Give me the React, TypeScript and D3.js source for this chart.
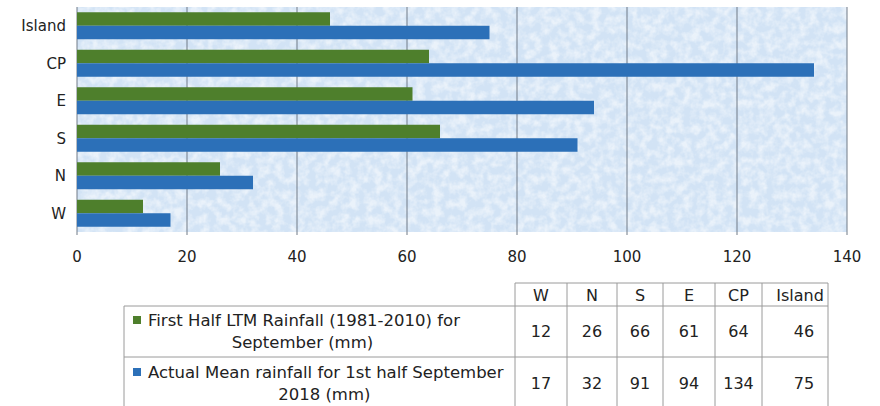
import React, { useEffect, useRef } from 'react';
import * as d3 from 'd3';

// regions, bottom to top in the chart, left to right in the table
const regions = ['W', 'N', 'S', 'E', 'CP', 'Island'];
const ltmRainfall = [12, 26, 66, 61, 64, 46];
const actualRainfall = [17, 32, 91, 94, 134, 75];
const xTicks = [0, 20, 40, 60, 80, 100, 120, 140];
const seriesNames = [
  ['First Half LTM Rainfall (1981-2010) for', 'September (mm)'],
  ['Actual Mean rainfall for 1st half September', '2018 (mm)'],
];
const seriesColors = ['#4e7f2c', '#2c70b8'];

const FONT = 'DejaVu Sans, Verdana, sans-serif';

export default function App() {
  const ref = useRef<SVGSVGElement>(null);

  useEffect(() => {
    const svg = d3.select(ref.current);
    svg.selectAll('*').remove();

    const left = 77, right = 847, top = 7, bottom = 232;

    const x = d3.scaleLinear().domain([0, 140]).range([left, right]);
    const y = d3.scaleBand().domain(regions.slice().reverse()).range([top, bottom])
      .paddingInner(0.28).paddingOuter(0.14);
    const ySub = d3.scaleBand().domain(['ltm', 'actual']).range([0, y.bandwidth()]);

    // mottled pale blue background
    const defs = svg.append('defs');
    const f = defs.append('filter').attr('id', 'mottle')
      .attr('x', 0).attr('y', 0).attr('width', '100%').attr('height', '100%');
    f.append('feTurbulence').attr('type', 'fractalNoise')
      .attr('baseFrequency', 0.12).attr('numOctaves', 3).attr('seed', 7);
    f.append('feColorMatrix').attr('type', 'matrix')
      .attr('values', '0 0 0 0 1  0 0 0 0 1  0 0 0 0 1  0 0 0 -2.4 1.55');
    f.append('feComposite').attr('in2', 'SourceGraphic').attr('operator', 'in');

    svg.append('rect').attr('x', left).attr('y', top)
      .attr('width', right - left).attr('height', bottom - top).attr('fill', '#d2e3f5');
    svg.append('rect').attr('x', left).attr('y', top)
      .attr('width', right - left).attr('height', bottom - top)
      .attr('fill', '#fff').attr('opacity', 0.55).attr('filter', 'url(#mottle)');

    // gridlines + ticks
    svg.append('g').selectAll('line').data(xTicks).join('line')
      .attr('x1', d => x(d)).attr('x2', d => x(d))
      .attr('y1', top).attr('y2', bottom + 3)
      .attr('stroke', '#707b87').attr('stroke-width', 1);

    svg.append('g').selectAll('text').data(xTicks).join('text')
      .attr('x', d => x(d)).attr('y', 262)
      .attr('text-anchor', 'middle')
      .attr('font-family', FONT).attr('font-size', 15).attr('fill', '#222')
      .text(d => d);

    // category labels
    svg.append('g').selectAll('text').data(regions).join('text')
      .attr('x', 66).attr('y', d => (y(d) as number) + y.bandwidth() / 2 + 5.5)
      .attr('text-anchor', 'end')
      .attr('font-family', FONT).attr('font-size', 15).attr('fill', '#222')
      .text(d => d);

    // bars
    const series = [
      { key: 'ltm', values: ltmRainfall, color: seriesColors[0] },
      { key: 'actual', values: actualRainfall, color: seriesColors[1] },
    ];
    series.forEach(s => {
      svg.append('g').selectAll('rect').data(regions).join('rect')
        .attr('x', x(0))
        .attr('y', (d) => (y(d) as number) + (ySub(s.key) as number))
        .attr('width', (d, i) => x(s.values[i]) - x(0))
        .attr('height', ySub.bandwidth())
        .attr('fill', s.color);
    });

    // data table
    const colEdges = [515, 567, 617, 663, 715, 762, 828];
    const legendLeft = 124;
    const rowTop = 283, headBottom = 306, row1Bottom = 357, tableBottom = 410;
    const grid = svg.append('g').attr('stroke', '#9a9a9a').attr('stroke-width', 1);
    grid.append('line').attr('x1', colEdges[0]).attr('x2', colEdges[6])
      .attr('y1', rowTop).attr('y2', rowTop);
    [headBottom, row1Bottom].forEach(yy => {
      grid.append('line').attr('x1', legendLeft).attr('x2', colEdges[6])
        .attr('y1', yy).attr('y2', yy);
    });
    grid.append('line').attr('x1', legendLeft).attr('x2', legendLeft)
      .attr('y1', headBottom).attr('y2', tableBottom);
    colEdges.forEach(cx => {
      grid.append('line').attr('x1', cx).attr('x2', cx)
        .attr('y1', rowTop).attr('y2', tableBottom);
    });

    const colCenter = (i: number) => (colEdges[i] + colEdges[i + 1]) / 2 + (i === 5 ? 5 : 0);
    const textStyle = (sel: any, size = 16) =>
      sel.attr('font-family', FONT).attr('font-size', size).attr('fill', '#222');

    svg.append('g').selectAll('text').data(regions).join('text')
      .call(textStyle)
      .attr('x', (d, i) => colCenter(i)).attr('y', 300.5)
      .attr('text-anchor', 'middle').text(d => d);

    const rowCenters = [331, 383];
    series.forEach((s, si) => {
      svg.append('g').selectAll('text').data(s.values).join('text')
        .call(textStyle)
        .attr('x', (d, i) => colCenter(i) + (i === 5 ? 4 : 0)).attr('y', rowCenters[si] + 6)
        .attr('text-anchor', 'middle').text(d => d);

      const lg = svg.append('g');
      lg.append('rect').attr('x', 133).attr('y', rowCenters[si] - 15)
        .attr('width', 8).attr('height', 8).attr('fill', s.color);
      const line1 = lg.append('text').call(textStyle, 16.5)
        .attr('x', 148).attr('y', rowCenters[si] - 5).text(seriesNames[si][0]);
      const end = 148 + (line1.node() as SVGTextElement).getComputedTextLength();
      lg.append('text').call(textStyle, 16.5)
        .attr('x', (133 + end) / 2 + 6).attr('y', rowCenters[si] + 17)
        .attr('text-anchor', 'middle').text(seriesNames[si][1]);
    });
  }, []);

  return (
    <div style={{ position: 'absolute', left: 0, top: 0 }}>
      <svg ref={ref} width={880} height={406} style={{ display: 'block', background: '#fff' }} />
    </div>
  );
}
